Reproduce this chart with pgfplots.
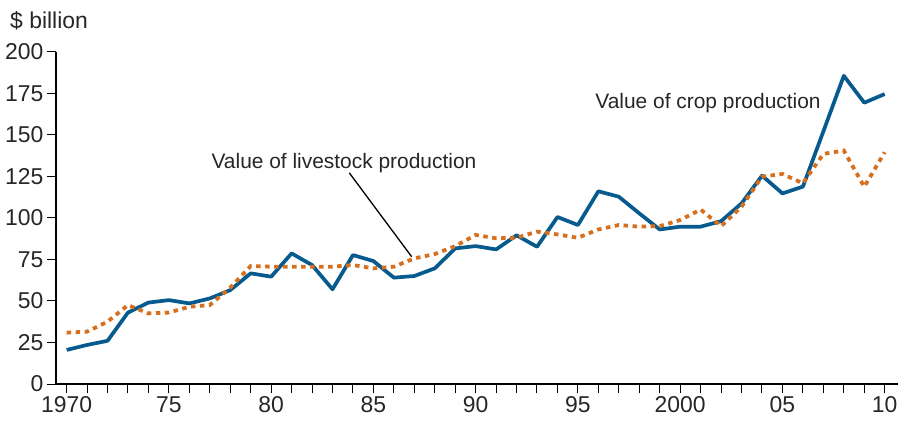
\documentclass[border=0pt]{standalone}
\usepackage{pgfplots}
\pgfplotsset{compat=1.18}
\usepackage{fontspec}
\setmainfont{Liberation Sans}
\definecolor{cropblue}{HTML}{075A8E}
\definecolor{liveorange}{HTML}{D6701E}
\begin{document}
\begin{tikzpicture}
\useasboundingbox (-56bp,-39bp) rectangle (848bp,384bp);
\begin{axis}[
  scale only axis, width=842bp, height=332.3bp,
  at={(0,0)}, anchor=south west,
  xmin=1969.48, xmax=2010.65, ymin=0, ymax=200,
  axis x line=bottom, axis y line=left,
  axis line style={-, line width=1.5bp, black},
  xtick={1970,1975,...,2010},
  minor xtick={1970,...,2010},
  xticklabels={1970,75,80,85,90,95,2000,05,10},
  ytick={0,25,...,200},
  tick align=outside,
  major tick length=9bp, minor tick length=9bp,
  every tick/.style={black, line width=1bp},
  /pgf/number format/assume math mode=true,
  tick label style={font=\fontsize{23}{23}\selectfont, text=black!85},
  clip=false,
]
\addplot[cropblue, line width=3.7bp, line join=round] coordinates {
(1970,20.5) (1971,23.5) (1972,26) (1973,43) (1974,49) (1975,50.5) (1976,48.5) (1977,51.5) (1978,56.5) (1979,66.6)
(1980,64.6) (1981,78.6) (1982,71.6) (1983,57) (1984,77.6) (1985,74) (1986,64) (1987,65) (1988,69.6) (1989,81.6)
(1990,83) (1991,81) (1992,89.5) (1993,82.6) (1994,100.5) (1995,95.7) (1996,116) (1997,112.7) (1998,102.7) (1999,93)
(2000,94.7) (2001,94.7) (2002,98) (2003,108.7) (2004,125.4) (2005,114.7) (2006,118.8) (2007,152) (2008,185.5) (2009,169.3) (2010,174.5)
};
\addplot[liveorange, line width=3.8bp, dash pattern=on 4.5bp off 4.5bp] coordinates {
(1970,30.9) (1971,31.5) (1972,37.5) (1973,47.5) (1974,42.5) (1975,43) (1976,46.5) (1977,47.5) (1978,58) (1979,71)
(1980,70.6) (1981,70.6) (1982,70.6) (1983,70.6) (1984,71.6) (1985,69.6) (1986,70.6) (1987,75.6) (1988,78.2) (1989,83)
(1990,89.7) (1991,87.7) (1992,88) (1993,91.7) (1994,90) (1995,88) (1996,93) (1997,95.7) (1998,94.7) (1999,95)
(2000,98.7) (2001,105) (2002,95) (2003,106.7) (2004,124.8) (2005,126.4) (2006,120.8) (2007,138.5) (2008,140.5) (2009,118.7) (2010,139.5)
};
\node[anchor=base, inner sep=0pt, font=\fontsize{21}{21}\selectfont, text=black!85] at (axis cs:1983.56,129.8) {Value of livestock production};
\draw[line width=1.3bp, black] (axis cs:1983.82,127.1) -- (axis cs:1986.87,76.6);
\node[anchor=base, inner sep=0pt, font=\fontsize{21}{21}\selectfont, text=black!85] at (axis cs:2001.36,165.9) {Value of crop production};
\end{axis}
\node[anchor=base west, inner sep=0pt, font=\fontsize{23}{23}\selectfont, text=black!85] at (-46bp,355.7bp) {\$ billion};
\end{tikzpicture}
\end{document}
